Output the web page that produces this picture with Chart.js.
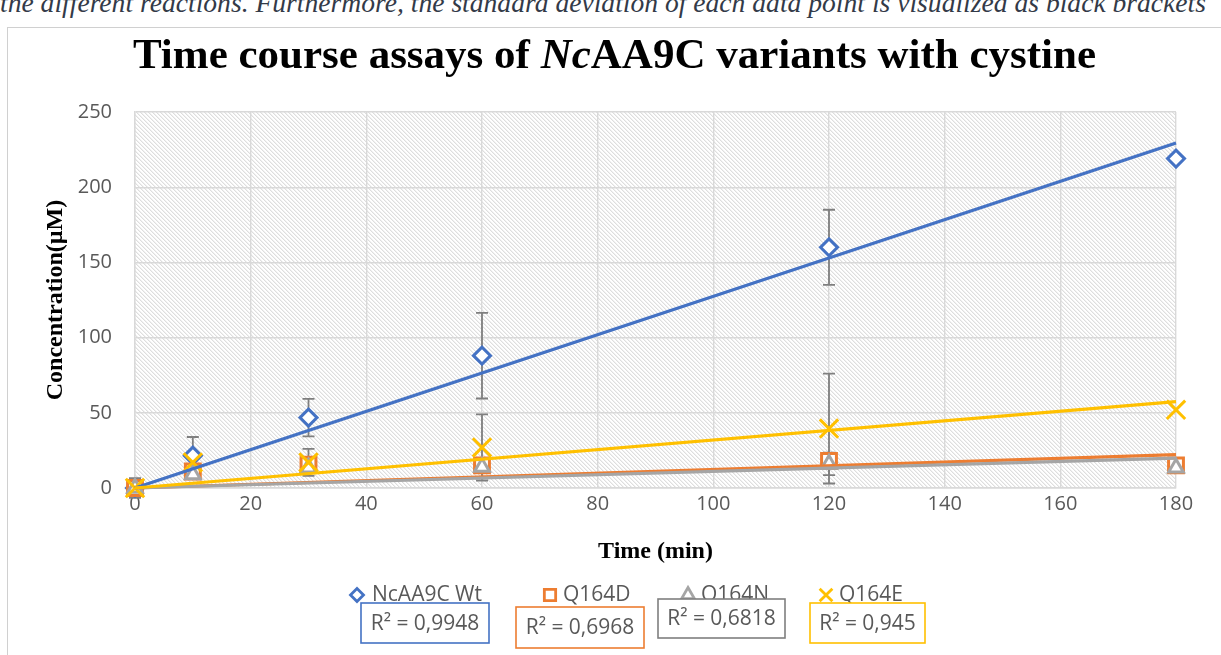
<!DOCTYPE html>
<html>
<head>
<meta charset="utf-8">
<title>Time course assays of NcAA9C variants with cystine</title>
<script src="https://cdn.jsdelivr.net/npm/chart.js@4.4.0/dist/chart.umd.min.js"></script>
<style>
  html, body { margin: 0; padding: 0; background: #fff; overflow: hidden; }
  body { width: 1221px; height: 655px; position: relative; }
  .caption {
    position: absolute; left: 0; top: -11px; white-space: nowrap;
    font: italic 27.6px/27px "Liberation Serif", serif; color: #333a48;
  }
  .frame {
    position: absolute; left: 7px; top: 27px; width: 1214px; height: 628px;
    border-left: 1px solid #d0d0d0; border-top: 1px solid #d0d0d0; box-sizing: border-box;
  }
  .chart-box { position: absolute; left: 0; top: 0; width: 1213px; height: 627px; }
  .title {
    position: absolute; left: 0; width: 1213px; top: 4px; text-align: center;
    font: bold 43px/43px "Liberation Serif", serif; color: #000; z-index: 2;
  }
</style>
</head>
<body>
<div class="caption">the different reactions. Furthermore, the standard deviation of each data point is visualized as black brackets</div>
<div class="frame">
  <div class="chart-box"><canvas id="assayChart"></canvas></div>
  <div class="title">Time course assays of <i>Nc</i>AA9C variants with cystine</div>
</div>
<script>
// sampling times (min)
const timePoints = [0, 10, 30, 60, 120, 180];

// mean concentrations (µM)
const wtValues    = [0, 21.5, 46.8, 88, 160, 219];
const q164dValues = [0, 11, 15.5, 15, 18, 15];
const q164nValues = [0, 9, 13.5, 14, 16, 13.5];
const q164eValues = [0, 17, 17, 27, 39.5, 52];

// standard deviations (µM)
const wtSd    = [0, 12.4, 12.5, 28.5, 25, 0];
const q164dSd = [6.5, 0, 0, 0, 5, 0];
const q164nSd = [0, 0, 0, 0, 7.5, 0];
const q164eSd = [0, 0, 9, 22, 36.5, 0];

const seriesNames = ["NcAA9C Wt", "Q164D", "Q164N", "Q164E"];
const rSquaredLabels = ["R² = 0,9948", "R² = 0,6968", "R² = 0,6818", "R² = 0,945"];

const xTickStep = 20, xMax = 180;
const yTickStep = 50, yMax = 250;

const series = [
  {name: seriesNames[0], values: wtValues,    sd: wtSd,    color: "#4472C4", style: "rectRot",  radius: 8.5, legendRadius: 6.5},
  {name: seriesNames[1], values: q164dValues, sd: q164dSd, color: "#ED7D31", style: "rect",     radius: 10.5, legendRadius: 8},
  {name: seriesNames[2], values: q164nValues, sd: q164nSd, color: "#A5A5A5", style: "triangle", radius: 8.5, legendRadius: 7.5},
  {name: seriesNames[3], values: q164eValues, sd: q164eSd, color: "#FFC000", style: "crossRot", radius: 13, legendRadius: 9}
];

// legend + R² box placement (canvas px)
const legendY = 567;
const legendSpots = [{marker: 349, text: 364}, {marker: 542, text: 555}, {marker: 680, text: 693}, {marker: 818, text: 831}];
const rBoxes = [
  {x: 353, y: 575, w: 128, h: 40, stroke: "#4472C4"},
  {x: 508, y: 579, w: 128, h: 41, stroke: "#ED7D31"},
  {x: 650, y: 571, w: 127, h: 39, stroke: "#7F7F7F"},
  {x: 802, y: 575, w: 115, h: 40, stroke: "#FFC000"}
];

// linear trend forced through the origin, as in the spreadsheet
function slopeThroughOrigin(xs, ys){
  let sxy = 0, sxx = 0;
  xs.forEach((x, i) => { sxy += x * ys[i]; sxx += x * x; });
  return sxy / sxx;
}

const datasets = [];
series.forEach((s, i) => {
  datasets.push({
    label: s.name,
    data: timePoints.map((t, j) => ({x: t, y: s.values[j]})),
    sd: s.sd,
    showLine: false,
    clip: false,
    pointStyle: s.style,
    pointRadius: s.radius,
    pointBorderWidth: 3,
    pointBorderColor: s.color,
    pointBackgroundColor: "#ffffff",
    order: 14 - i
  });
});
series.forEach((s, i) => {
  const k = slopeThroughOrigin(timePoints, s.values);
  const tEnd = timePoints[timePoints.length - 1];
  datasets.push({
    label: s.name + " trend",
    type: "line",
    data: [{x: 0, y: 0}, {x: tEnd, y: k * tEnd}],
    borderColor: s.color,
    borderWidth: 3.2,
    pointRadius: 0,
    fill: false,
    clip: false,
    order: 4 - i
  });
});

// diagonal hatch for the plot area
function makeHatch(ctx){
  const tile = document.createElement("canvas");
  tile.width = 4; tile.height = 4;
  const t = tile.getContext("2d");
  t.fillStyle = "#ffffff"; t.fillRect(0, 0, 4, 4);
  for(let i = 0; i < 4; i++){
    t.fillStyle = "#dedede"; t.fillRect(i, i, 1, 1);
    t.fillStyle = "#f1f1f1"; t.fillRect((i + 1) % 4, i, 1, 1);
  }
  return ctx.createPattern(tile, "repeat");
}

const hatchPlugin = {
  id: "hatch",
  beforeDraw(chart){
    const {ctx, chartArea: a} = chart;
    ctx.save();
    ctx.fillStyle = makeHatch(ctx);
    ctx.fillRect(a.left, a.top, a.right - a.left, a.bottom - a.top);
    ctx.restore();
  }
};

const errorBarPlugin = {
  id: "errorBars",
  beforeDatasetsDraw(chart){
    const {ctx} = chart;
    const yScale = chart.scales.y;
    ctx.save();
    ctx.strokeStyle = "#7F7F7F";
    ctx.lineWidth = 1.8;
    chart.data.datasets.forEach((ds, i) => {
      if(!ds.sd) return;
      const meta = chart.getDatasetMeta(i);
      meta.data.forEach((pt, j) => {
        const sd = ds.sd[j];
        if(!sd) return;
        const v = ds.data[j].y;
        const yTop = yScale.getPixelForValue(v + sd);
        const yBot = yScale.getPixelForValue(v - sd);
        ctx.beginPath();
        ctx.moveTo(pt.x, yTop); ctx.lineTo(pt.x, yBot);
        ctx.moveTo(pt.x - 6, yTop); ctx.lineTo(pt.x + 6, yTop);
        ctx.moveTo(pt.x - 6, yBot); ctx.lineTo(pt.x + 6, yBot);
        ctx.stroke();
      });
    });
    ctx.restore();
  }
};

const legendPlugin = {
  id: "assayLegend",
  afterDraw(chart){
    const {ctx} = chart;
    ctx.save();
    ctx.font = '21px "Open Sans"';
    ctx.textBaseline = "middle";
    series.forEach((s, i) => {
      const spot = legendSpots[i];
      ctx.strokeStyle = s.color;
      ctx.fillStyle = "#ffffff";
      ctx.lineWidth = 2.8;
      Chart.helpers.drawPoint(ctx, {pointStyle: s.style, radius: s.legendRadius, rotation: 0, borderWidth: 2.8}, spot.marker, legendY);
      ctx.fillStyle = "#595959";
      ctx.textAlign = "left";
      ctx.fillText(s.name, spot.text, legendY);
    });
    rBoxes.forEach((b, i) => {
      ctx.fillStyle = "#ffffff";
      ctx.fillRect(b.x, b.y, b.w, b.h);
      ctx.strokeStyle = b.stroke;
      ctx.lineWidth = 1.6;
      ctx.strokeRect(b.x, b.y, b.w, b.h);
      ctx.fillStyle = "#595959";
      ctx.textAlign = "center";
      ctx.fillText(rSquaredLabels[i], b.x + b.w / 2, b.y + b.h / 2 + 1);
    });
    ctx.restore();
  }
};

const tickFont = {family: "'Open Sans'", size: 20};
const axisTitleFont = {family: "'Liberation Serif'", size: 24, weight: "bold"};

new Chart(document.getElementById("assayChart"), {
  type: "scatter",
  data: {datasets},
  plugins: [hatchPlugin, errorBarPlugin, legendPlugin],
  options: {
    responsive: true,
    maintainAspectRatio: false,
    animation: false,
    layout: {padding: {top: 84, right: 45, bottom: 0, left: 0}},
    plugins: {legend: {display: false}, tooltip: {enabled: false}, title: {display: false}},
    scales: {
      x: {
        type: "linear", min: 0, max: xMax,
        ticks: {stepSize: xTickStep, color: "#595959", font: tickFont, padding: 4},
        grid: {color: "#d9d9d9", lineWidth: 1.4, drawTicks: false},
        border: {color: "#d9d9d9", width: 1.4},
        title: {display: true, text: "Time (min)", color: "#000", font: axisTitleFont, padding: {top: 0, bottom: 88.6}},
        afterFit(scale){ scale.height = 167; }
      },
      y: {
        type: "linear", min: 0, max: yMax,
        ticks: {stepSize: yTickStep, color: "#595959", font: tickFont, padding: 23},
        grid: {color: "#d9d9d9", lineWidth: 1.4, drawTicks: false},
        border: {color: "#d9d9d9", width: 1.4},
        title: {display: true, text: "Concentration(µM)", color: "#000", font: axisTitleFont, padding: {top: 33, bottom: 0}},
        afterFit(scale){ scale.width = 127; }
      }
    }
  }
});
</script>
</body>
</html>
